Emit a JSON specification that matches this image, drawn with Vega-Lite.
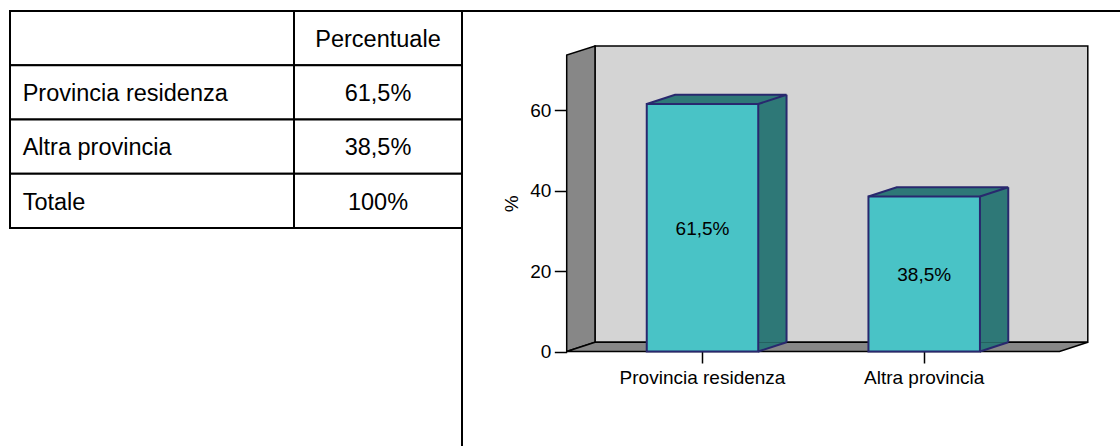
{
  "$schema": "https://vega.github.io/schema/vega-lite/v6.json",
  "width": 1120,
  "height": 446,
  "autosize": {"type": "none"},
  "padding": 0,
  "background": "white",
  "config": {"view": {"stroke": null}, "font": "Liberation Sans"},
  "datasets": {
    "tabella": [
      {"voce": "", "percentuale": "Percentuale"},
      {"voce": "Provincia residenza", "percentuale": "61,5%"},
      {"voce": "Altra provincia", "percentuale": "38,5%"},
      {"voce": "Totale", "percentuale": "100%"}
    ],
    "grafico": [
      {"provenienza": "Provincia residenza", "pct": 61.5, "etichetta": "61,5%"},
      {"provenienza": "Altra provincia", "pct": 38.5, "etichetta": "38,5%"}
    ],
    "cornice": [{"parte": "cornice"}]
  },
  "layer": [
    {
      "data": {"name": "tabella"},
      "layer": [
        {
          "mark": {"type": "rect", "fill": "white", "stroke": "black", "strokeWidth": 2},
          "encoding": {
            "x": {"datum": 0, "type": "quantitative", "scale": {"domain": [0, 1, 2, 3], "range": [10, 294, 462, 1122], "nice": false, "zero": false}, "axis": null},
            "x2": {"datum": 1},
            "y": {"field": "voce", "type": "nominal", "scale": {"domain": ["", "Provincia residenza", "Altra provincia", "Totale"], "range": [11, 228], "paddingInner": 0, "paddingOuter": 0}, "axis": null}
          }
        },
        {
          "mark": {"type": "rect", "fill": "white", "stroke": "black", "strokeWidth": 2},
          "encoding": {
            "x": {"datum": 1, "type": "quantitative"},
            "x2": {"datum": 2},
            "y": {"field": "voce", "type": "nominal"}
          }
        },
        {
          "mark": {"type": "text", "align": "left", "baseline": "middle", "dx": 12.7, "dy": 1.7, "fontSize": 23.5, "font": "Liberation Sans", "color": "black"},
          "encoding": {
            "x": {"datum": 0, "type": "quantitative"},
            "y": {"field": "voce", "type": "nominal"},
            "text": {"field": "voce"}
          }
        },
        {
          "mark": {"type": "text", "align": "center", "baseline": "middle", "dy": 1.7, "fontSize": 23.5, "font": "Liberation Sans", "color": "black"},
          "encoding": {
            "x": {"datum": 1.5, "type": "quantitative"},
            "y": {"field": "voce", "type": "nominal"},
            "text": {"field": "percentuale"}
          }
        },
        {
          "data": {"name": "cornice"},
          "mark": {"type": "rule", "stroke": "black", "strokeWidth": 2, "strokeCap": "square"},
          "encoding": {
            "x": {"datum": 2, "type": "quantitative"},
            "x2": {"datum": 3},
            "y": {"datum": "", "type": "nominal", "bandPosition": 0}
          }
        },
        {
          "data": {"name": "cornice"},
          "mark": {"type": "rule", "stroke": "black", "strokeWidth": 2, "strokeCap": "square"},
          "encoding": {
            "x": {"datum": 2, "type": "quantitative"},
            "y": {"datum": "", "type": "nominal", "bandPosition": 0},
            "y2": {"value": "height"}
          }
        }
      ]
    },
    {
      "layer": [
        {
          "layer": [
            {
              "data": {"name": "cornice"},
              "mark": {"type": "point", "shape": "M-107.5,-9.3L385.3,-9.3L385.3,-305.5L-107.5,-305.5Z", "size": 4, "filled": true, "fill": "#D4D4D4", "stroke": "black", "strokeWidth": 1.5, "opacity": 1},
              "encoding": {
                "x": {"datum": "Provincia residenza", "type": "nominal", "scale": {"domain": ["Provincia residenza", "Altra provincia"], "range": [591.65, 1035.05], "paddingInner": 0, "paddingOuter": 0}},
                "y": {"datum": 0, "type": "quantitative", "scale": {"domain": [0, 73.7], "range": [351.5, 54.9], "nice": false, "zero": false}}
              }
            },
            {
              "data": {"name": "cornice"},
              "mark": {"type": "point", "shape": "M-135.8,0L-135.8,-296.5L-107.5,-305.5L-107.5,-9.3Z", "size": 4, "filled": true, "fill": "#878787", "stroke": "black", "strokeWidth": 1.5, "opacity": 1},
              "encoding": {
                "x": {"datum": "Provincia residenza", "type": "nominal"},
                "y": {"datum": 0, "type": "quantitative"}
              }
            },
            {
              "data": {"name": "cornice"},
              "mark": {"type": "point", "shape": "M-135.8,0L357,0L385.3,-9.3L-107.5,-9.3Z", "size": 4, "filled": true, "fill": "#878787", "stroke": "black", "strokeWidth": 1.5, "opacity": 1},
              "encoding": {
                "x": {"datum": "Provincia residenza", "type": "nominal"},
                "y": {"datum": 0, "type": "quantitative"}
              }
            },
            {
              "data": {"name": "grafico"},
              "mark": {"type": "bar", "width": 28.3, "xOffset": 69.9, "yOffset": -9.3, "y2Offset": -9.3, "fill": "#2E7877", "opacity": 1},
              "encoding": {
                "x": {"field": "provenienza", "type": "nominal"},
                "y": {"field": "pct", "type": "quantitative"},
                "y2": {"datum": 0}
              }
            },
            {
              "data": {"name": "grafico"},
              "mark": {"type": "point", "shape": "M-55.75,0L84.05,0L84.05,-9.3L-27.45,-9.3Z", "size": 4, "filled": true, "fill": "#2E7877", "strokeWidth": 0, "opacity": 1},
              "encoding": {
                "x": {"field": "provenienza", "type": "nominal"},
                "y": {"field": "pct", "type": "quantitative"}
              }
            },
            {
              "data": {"name": "grafico"},
              "mark": {"type": "point", "shape": "M55.75,0L55.75,-9.3L84.05,-9.3Z", "size": 4, "filled": true, "fill": "#2E7877", "strokeWidth": 0, "opacity": 1},
              "encoding": {
                "x": {"field": "provenienza", "type": "nominal"},
                "y": {"datum": 0, "type": "quantitative"}
              }
            },
            {
              "data": {"name": "grafico"},
              "mark": {"type": "bar", "width": 111.5, "fill": "#49C3C6", "stroke": "#28286E", "strokeWidth": 2, "opacity": 1},
              "encoding": {
                "x": {"field": "provenienza", "type": "nominal", "axis": {"orient": "bottom", "offset": -94.5, "domain": false, "grid": false, "tickSize": 11.5, "tickColor": "black", "tickWidth": 1.5, "labelFontSize": 19, "labelFont": "Liberation Sans", "labelColor": "black", "labelPadding": 5, "labelAngle": 0, "labelAlign": "center", "labelBaseline": "top", "title": null}},
                "y": {"field": "pct", "type": "quantitative", "axis": {"orient": "left", "offset": -566.7, "values": [0, 20, 40, 60], "domain": false, "grid": false, "tickSize": 12.4, "tickColor": "black", "tickWidth": 1.5, "labelFontSize": 19, "labelFont": "Liberation Sans", "labelColor": "black", "labelPadding": 3.5, "title": "%", "titleFontSize": 19, "titleFont": "Liberation Sans", "titleFontWeight": "normal", "titleColor": "black", "titlePadding": 8}},
                "y2": {"datum": 0}
              }
            },
            {
              "data": {"name": "grafico"},
              "mark": {"type": "point", "shape": "M-55.75,0L-27.45,-9.3L84.05,-9.3M55.75,0L84.05,-9.3", "size": 4, "filled": false, "fill": null, "stroke": "#28286E", "strokeWidth": 2, "opacity": 1},
              "encoding": {
                "x": {"field": "provenienza", "type": "nominal"},
                "y": {"field": "pct", "type": "quantitative"}
              }
            },
            {
              "data": {"name": "grafico"},
              "mark": {"type": "point", "shape": "M55.75,0L84.05,-9.3", "size": 4, "filled": false, "fill": null, "stroke": "#28286E", "strokeWidth": 2, "opacity": 1},
              "encoding": {
                "x": {"field": "provenienza", "type": "nominal"},
                "y": {"datum": 0, "type": "quantitative"}
              }
            },
            {
              "data": {"name": "grafico"},
              "mark": {"type": "rule", "xOffset": 84.05, "yOffset": -9.3, "y2Offset": -9.3, "stroke": "#28286E", "strokeWidth": 2},
              "encoding": {
                "x": {"field": "provenienza", "type": "nominal"},
                "y": {"field": "pct", "type": "quantitative"},
                "y2": {"datum": 0}
              }
            }
          ]
        },
        {
          "data": {"name": "grafico"},
          "mark": {"type": "text", "baseline": "middle", "align": "center", "dy": 1, "fontSize": 19, "font": "Liberation Sans", "color": "black"},
          "encoding": {
            "x": {"field": "provenienza", "type": "nominal"},
            "y": {"field": "pct", "type": "quantitative", "scale": {"domain": [0, 147.4], "range": [351.5, 54.9], "nice": false, "zero": false}, "axis": null},
            "text": {"field": "etichetta"}
          }
        }
      ],
      "resolve": {"scale": {"y": "independent"}, "axis": {"y": "independent"}}
    }
  ],
  "resolve": {"scale": {"x": "independent", "y": "independent"}, "axis": {"x": "independent", "y": "independent"}}
}
